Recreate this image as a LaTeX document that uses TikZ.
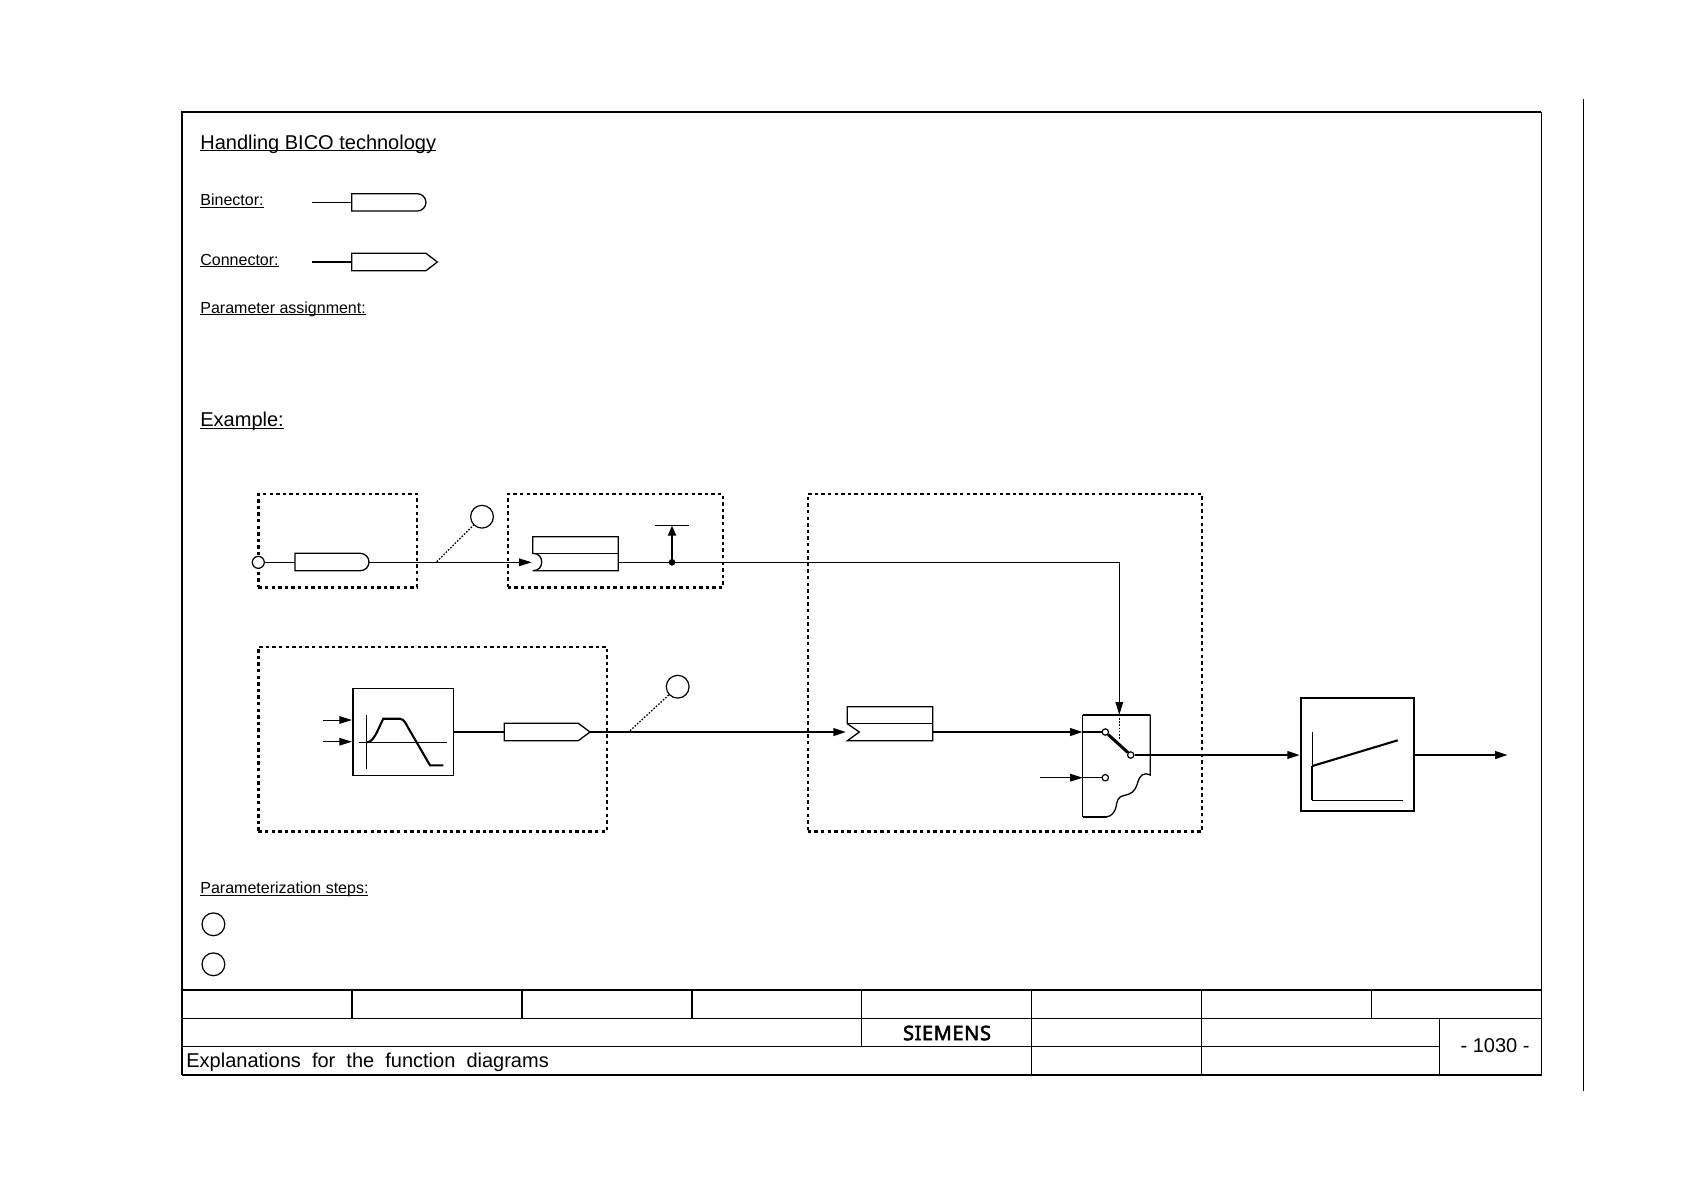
\documentclass[tikz,border=0pt]{standalone}
\usepackage{fontspec}
\setmainfont{Liberation Sans}
\newfontfamily\logofont[LetterSpace=3,FakeBold=2.5]{Noto Sans}
\usetikzlibrary{arrows.meta}
\newcommand{\ultext}[1]{\setbox0\hbox{#1}\rlap{\rule[-1pt]{\wd0}{0.45pt}}\box0}
\tikzset{
    thinline/.style={line width=0.5pt},
    shapeline/.style={line width=0.65pt},
    thickline/.style={line width=1.05pt},
    flow/.style={-{Triangle[length=6.3pt,width=3.8pt]}},
    dashbox/.style={draw, line width=1.2pt, dash pattern=on 1.7pt off 1.6pt, inner sep=0pt},
    lead/.style={line width=0.65pt, dash pattern=on 0.8pt off 0.8pt},
    stepmark/.style={draw, circle, line width=0.6pt, minimum size=11.4pt, inner sep=0pt},
    contact/.style={draw, circle, fill=white, line width=0.6pt, minimum size=3.2pt, inner sep=0pt},
    block/.style={draw, inner sep=0pt},
    bigtext/.style={anchor=base west, inner sep=0pt, font=\fontsize{10}{12}\selectfont},
    smalltext/.style={anchor=base west, inner sep=0pt, font=\fontsize{8}{10}\selectfont},
}
\begin{document}
\begin{tikzpicture}[x=0.5pt, y=-0.5pt]
    \useasboundingbox (0,0) rectangle (1684,1190);
    % sheet frame and title block
    \draw[line width=0.8pt] (182,1075) -- (182,112) -- (1541.3,112);
    \draw[line width=0.55pt] (1541.3,112) -- (1541.3,1075);
    \draw[line width=1.1pt] (181.7,1075) -- (1541.6,1075);
    \draw[thinline] (1583.5,99) -- (1583.5,1090.7);
    \draw[line width=1.1pt] (182,990) -- (1541.3,990);
    \draw[thinline] (182,1018) -- (1541.3,1018);
    \draw[thinline] (182,1046.3) -- (1439.3,1046.3);
    \foreach \xa in {352,522,692}
        \draw[line width=0.7pt] (\xa,990) -- (\xa,1018);
    \foreach \xa in {861,1371.3}
        \draw[thinline] (\xa,990) -- (\xa,1018);
    \draw[thinline] (861,1018) -- (861,1046.3);
    \foreach \xa in {1031,1201}
        \draw[thinline] (\xa,990) -- (\xa,1075);
    \draw[thinline] (1439.3,1018) -- (1439.3,1075);
    \node[bigtext] (sheettitle) at (186,1067) {Explanations~~for~~the~~function~~diagrams};
    \node[inner sep=0pt, font=\logofont\fontsize{10}{12}\selectfont] (logo) at (947,1033) {SIEMENS};
    \node[inner sep=0pt, font=\fontsize{10}{12}\selectfont] (pageno) at (1495,1045.7) {- 1030 -};

    % headings
    \node[bigtext] (heading) at (200,149) {\ultext{Handling BICO technology}};
    \node[smalltext] (binlabel) at (200,205.5) {\ultext{Binector:}};
    \node[smalltext] (conlabel) at (200,265) {\ultext{Connector:}};
    \node[smalltext] (parlabel) at (200,313) {\ultext{Parameter assignment:}};
    \node[bigtext] (exlabel) at (200,426.5) {\ultext{Example:}};
    \node[smalltext] (steplabel) at (200,893.5) {\ultext{Parameterization steps:}};
    \node[stepmark] (stepone) at (213.4,924.3) {};
    \node[stepmark] (steptwo) at (213.4,964.3) {};

    % legend symbols
    \draw[shapeline] (351.7,193.7) coordinate (binleg) -- (417.3,193.7) arc (-90:90:8.65) -- (351.7,211) -- cycle;
    \draw[thinline] (311.7,202.3) coordinate (binlegin) -- (351.7,202.3);
    \draw[shapeline] (351.7,253.3) coordinate (conleg) -- (426,253.3) -- (437.3,262) -- (426,270.7) -- (351.7,270.7) -- cycle;
    \draw[thickline] (311.7,262) coordinate (conlegin) -- (351.7,262);

    % dashed function blocks
    \node[dashbox, minimum width=79.35pt, minimum height=46.65pt] (boxa) at (337.65,540.65) {};
    \node[dashbox, minimum width=107.65pt, minimum height=46.65pt] (boxb) at (615.35,540.65) {};
    \node[dashbox, minimum width=174.35pt, minimum height=92.3pt] (boxc) at (432.65,739) {};
    \node[dashbox, minimum width=197.15pt, minimum height=168.65pt] (boxd) at (1004.85,662.65) {};

    % upper signal path
    \coordinate (binin) at (258.3,562.3);
    \coordinate (binoutl) at (295,562.3);
    \coordinate (binoutr) at (369,562.3);
    \coordinate (binsink) at (531.7,562.3);
    \coordinate (memout) at (618.3,562.3);
    \coordinate (tapdot) at (672,562.3);
    \coordinate (corner) at (1119.3,562.3);
    \coordinate (swtop) at (1119.3,714.7);
    \draw[thinline] (binin) -- (binoutl);
    \draw[shapeline] (295,553.3) -- (360.3,553.3) arc (-90:90:8.7) -- (295,570.7) -- cycle;
    \draw[thinline, flow] (binoutr) -- (binsink);
    \draw[shapeline] (532.7,553.3) -- (532.7,536.7) -- (618.3,536.7) -- (618.3,570.7) -- (532.7,570.7)
        .. controls (539,570.7) and (541.7,566.5) .. (541.7,562) .. controls (541.7,557.5) and (539,553.3) .. (532.7,553.3) -- cycle;
    \draw[shapeline] (532.7,553.3) -- (618.3,553.3);
    \draw[thinline] (memout) -- (corner);
    \draw[thinline, flow] (corner) -- (swtop);
    \node[contact, minimum size=6pt] (binstart) at (binin) {};
    \fill (tapdot) circle (3.3);
    \draw[thickline, -{Triangle[length=5pt,width=4pt]}] (tapdot) -- (672,525.6);
    \draw[thinline] (654.7,525.3) -- (689.3,525.3);
    \node[stepmark] (markone) at (482,516.7) {};
    \coordinate (leadone) at (436.7,561.7);
    \draw[lead] (leadone) -- (markone);

    % lower signal path
    \node[block, line width=0.8pt, minimum width=50.3pt, minimum height=43.5pt] (ramp) at (403,731.8) {};
    \coordinate (inone) at (323.3,720);
    \coordinate (intwo) at (323.3,741.7);
    \draw[thinline, flow] (inone) -- (inone -| ramp.west);
    \draw[thinline, flow] (intwo) -- (intwo -| ramp.west);
    \draw[thinline] (366.7,715) -- (366.7,769.3);
    \draw[thinline] (359,742.3) -- (446.7,742.3);
    \draw[thickline] (366.7,742.3) .. controls (374,742.3) and (378,729) .. (383.3,718.7) -- (400,718.7)
        .. controls (404,719) and (406,724) .. (408,727.5) -- (430,765.3) -- (443.3,765.3);
    \coordinate (conin) at (504.3,732);
    \coordinate (conout) at (590,732);
    \coordinate (memin) at (846,732);
    \coordinate (memoutb) at (932.7,732);
    \draw[thickline] (conin -| ramp.east) -- (conin);
    \draw[shapeline] (504.3,723.3) -- (578.3,723.3) -- (conout) -- (578.3,740.7) -- (504.3,740.7) -- cycle;
    \draw[thickline, flow] (conout) -- (memin);
    \draw[shapeline] (847.3,723.7) -- (847.3,706.7) -- (932.7,706.7) -- (932.7,740.7) -- (847.3,740.7) -- (859.3,732) -- cycle;
    \draw[shapeline] (847.3,723.7) -- (932.7,723.7);
    \node[stepmark] (marktwo) at (677.7,686.7) {};
    \coordinate (leadtwo) at (630,730.7);
    \draw[lead] (leadtwo) -- (marktwo);

    % switch
    \coordinate (swleft) at (1082.7,732);
    \coordinate (swlow) at (1082.7,777.7);
    \draw[shapeline] (1082.7,714.7) -- (1082.7,816.7);
    \draw[shapeline] (1150.3,714.7) -- (1150.3,775)
        .. controls (1143,772) and (1140,775) .. (1137.5,783) .. controls (1135,792) and (1131,794) .. (1124,795.5)
        .. controls (1117,797) and (1117,802) .. (1116,807) .. controls (1115,812) and (1111,816.7) .. (1106.7,816.7);
    \draw[thickline] (1082.7,714.7) -- (1150.3,714.7);
    \draw[thickline] (1082.7,816.7) -- (1106.7,816.7);
    \draw[lead] (swtop) -- (1119.3,739);
    \draw[thickline, flow] (memoutb) -- (swleft);
    \coordinate (lowin) at (1040,777.7);
    \draw[thinline, flow] (lowin) -- (swlow);
    \node[contact] (cona) at (1105.3,732) {};
    \node[contact] (conb) at (1130.7,755) {};
    \node[contact] (conc) at (1105.3,777.7) {};
    \draw[thickline] (swleft) -- (cona);
    \draw[thinline] (swlow) -- (conc);
    \draw[line width=1.5pt] (cona) -- (conb);

    % output block
    \node[block, line width=1.1pt, minimum width=56.65pt, minimum height=56.8pt] (gain) at (1357.6,754.5) {};
    \draw[thickline, flow] (conb) -- (conb -| gain.west);
    \coordinate (gainout) at (1507.7,755);
    \draw[thickline, flow] (gainout -| gain.east) -- (gainout);
    \draw[thinline] (1312.3,731.7) -- (1312.3,766);
    \draw[thickline] (1312.3,766) -- (1312.3,800);
    \draw[thinline] (1312.3,800) -- (1402.7,800);
    \draw[thickline] (1312.3,766) -- (1397.7,740.3);
\end{tikzpicture}
\end{document}
